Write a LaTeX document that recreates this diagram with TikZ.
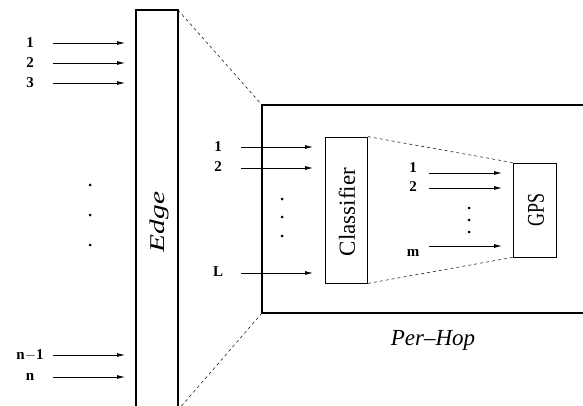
\documentclass[tikz,border=0pt]{standalone}
\usepackage{fontspec}
\setmainfont{Liberation Serif}
\usetikzlibrary{arrows.meta}
\begin{document}
\begin{tikzpicture}[x=1pt,y=-1pt,
  lab/.style={font=\fontsize{15}{17}\selectfont\bfseries, inner sep=0pt},
  flow/.style={line width=0.8pt, -{Latex[length=8pt,width=4pt]}},
  dotmark/.style={circle, fill=black, inner sep=0pt, minimum size=3pt},
  thinbox/.style={draw, line width=0.8pt, minimum width=42pt},
  guide/.style={line width=0.5pt, dash pattern=on 3pt off 3pt}]
\useasboundingbox (0,0) rectangle (583,406);
% Edge box (open at bottom)
\coordinate (eBL) at (136,406);
\coordinate (eTL) at (136,10);
\coordinate (eTR) at (178,10);
\coordinate (eBR) at (178,406);
\draw[line width=1.5pt] (eBL) -- (eTL) -- (eTR) -- (eBR);
\node[rotate=90, inner sep=0pt, font=\fontsize{21}{24}\selectfont\itshape] (edge) at (159,222) {\scalebox{1.4}[1]{Edge}};
% Per-Hop box (open at right)
\coordinate (pTR) at (583,105);
\coordinate (pTL) at (262,105);
\coordinate (pBL) at (262,313);
\coordinate (pBR) at (583,313);
\draw[line width=2pt] (pTR) -- (pTL) -- (pBL) -- (pBR);
\node[inner sep=0pt, font=\fontsize{23}{26}\selectfont\itshape] (perhop) at (433,340) {Per--Hop};
% guides from Edge to Per-Hop
\coordinate (gB) at (181.5,406);
\draw[guide] (eTR) -- (pTL);
\draw[guide] (gB) -- (pBL);
% left inputs
\node[lab] (a1) at (30,43) {1};
\node[lab] (a2) at (30,63) {2};
\node[lab] (a3) at (30,83) {3};
\node[lab] (an1) at (30,355) {n$\mathbf{-}$1};
\node[lab] (an) at (30,377) {n};
\foreach \n/\y in {1/43,2/63,3/83,n1/355,n/377}{
  \coordinate (s\n) at (53,\y);
  \coordinate (t\n) at (125,\y);
  \draw[flow] (s\n) -- (t\n);
}
\node[dotmark] (d1) at (90,185) {};
\node[dotmark] (d2) at (90,215) {};
\node[dotmark] (d3) at (90,245) {};
% classifier
\node[thinbox, minimum width=42pt, minimum height=146pt] (cls) at (346.5,210) {};
\node[rotate=90, inner sep=0pt, font=\fontsize{23}{26}\selectfont] (clst) at (347,212) {Classifier};
% GPS
\node[thinbox, minimum width=43pt, minimum height=94pt] (gps) at (534.5,210) {};
\node[rotate=90, inner sep=0pt, font=\fontsize{24}{26}\selectfont] (gpst) at (536,210) {\scalebox{0.75}[1]{GPS}};
\draw[guide] (cls.north east) -- (gps.north west);
\draw[guide] (cls.south east) -- (gps.south west);
% per-hop inputs
\node[lab] (b1) at (218,147) {1};
\node[lab] (b2) at (218,167) {2};
\node[lab] (bL) at (218,272) {L};
\foreach \n/\y in {1/147,2/168,L/273}{
  \coordinate (u\n) at (241,\y);
  \coordinate (v\n) at (313,\y);
  \draw[flow] (u\n) -- (v\n);
}
\node[dotmark] (e1) at (282,199) {};
\node[dotmark] (e2) at (282,217) {};
\node[dotmark] (e3) at (282,236) {};
% inner inputs
\node[lab] (c1) at (413,168) {1};
\node[lab] (c2) at (413,187) {2};
\node[lab] (cm) at (413,253) {m};
\foreach \n/\y in {1/173,2/188,m/246}{
  \coordinate (p\n) at (429,\y);
  \coordinate (q\n) at (502,\y);
  \draw[flow] (p\n) -- (q\n);
}
\node[dotmark] (f1) at (469,208) {};
\node[dotmark] (f2) at (469,220) {};
\node[dotmark] (f3) at (469,232) {};
\end{tikzpicture}
\end{document}
